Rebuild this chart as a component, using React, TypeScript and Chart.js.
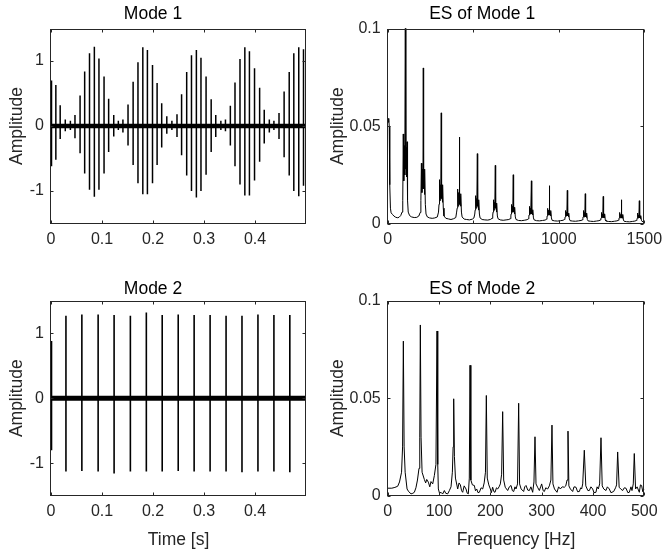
import React, { useEffect, useRef } from 'react';
import { Chart, registerables } from 'chart.js';

Chart.register(...registerables);

const FONT = "'Liberation Sans', Arial, Helvetica, sans-serif";
const AXIS_COLOR = '#262626';

// ---------- Mode 1 (time signal): impulse times [s], positive and negative peaks ----------
const MODE1_T = [0.001, 0.0095, 0.018, 0.028, 0.038,
  0.047, 0.057, 0.066, 0.0755, 0.085, 0.094, 0.104, 0.113, 0.123, 0.132,
  0.141, 0.151, 0.161, 0.1705, 0.18, 0.189, 0.199, 0.208, 0.217, 0.227, 0.237,
  0.247, 0.256, 0.266, 0.2754, 0.285, 0.294, 0.304, 0.314, 0.323, 0.333,
  0.342, 0.3516, 0.3607, 0.3705, 0.38, 0.389, 0.399, 0.409, 0.418, 0.428, 0.437,
  0.447, 0.457, 0.467, 0.476, 0.4857, 0.495];
const MODE1_POS = [0.7, 0.63, 0.32, 0.1, 0.08,
  0.17, 0.47, 0.84, 1.12, 1.22, 1.04, 0.76, 0.42, 0.17, 0.08,
  0.1, 0.33, 0.68, 0.98, 1.21, 1.17, 0.94, 0.66, 0.35, 0.15, 0.08,
  0.18, 0.49, 0.83, 1.09, 1.17, 1.05, 0.76, 0.41, 0.17, 0.08,
  0.1, 0.31, 0.67, 1.03, 1.21, 1.15, 0.89, 0.59, 0.25, 0.1, 0.08,
  0.2, 0.53, 0.83, 1.12, 1.21, 1.18];
const MODE1_NEG = [-0.62, -0.52, -0.2, -0.08, -0.06,
  -0.19, -0.42, -0.73, -0.98, -1.09, -0.98, -0.73, -0.4, -0.16, -0.06,
  -0.1, -0.3, -0.6, -0.88, -1.05, -1.05, -0.88, -0.6, -0.33, -0.12, -0.06,
  -0.17, -0.45, -0.76, -1.0, -1.1, -1.0, -0.75, -0.4, -0.17, -0.06,
  -0.08, -0.3, -0.62, -0.9, -1.07, -1.07, -0.84, -0.55, -0.27, -0.1, -0.06,
  -0.2, -0.48, -0.76, -1.0, -1.08, -0.92];

// ---------- Mode 2 (time signal) ----------
const MODE2_T = [0.001, 0.0293, 0.0605, 0.0924, 0.1237, 0.1556, 0.1869, 0.218,
  0.2494, 0.2806, 0.3119, 0.3432, 0.3744, 0.4057, 0.437, 0.4682];
const MODE2_POS = [0.88, 1.27, 1.29, 1.29, 1.28, 1.27, 1.32, 1.28,
  1.29, 1.28, 1.28, 1.27, 1.27, 1.29, 1.28, 1.28];
const MODE2_NEG = [-0.8, -1.13, -1.12, -1.13, -1.16, -1.13, -1.13, -1.13,
  -1.12, -1.13, -1.13, -1.13, -1.14, -1.13, -1.13, -1.14];

// ---------- Envelope spectrum of Mode 1: [frequency Hz, amplitude] ----------
const ES1_POINTS = [
  [0, 0.054], [3, 0.052], [6, 0.054], [9, 0.05], [11, 0.04], [13, 0.02], [16, 0.008], [20, 0.0056],
  [28, 0.0048], [36, 0.004], [46, 0.0034], [56, 0.0031], [66, 0.0033], [76, 0.0042], [84, 0.006],
  [88, 0.012], [91, 0.046], [94, 0.022], [97, 0.04], [100, 0.025], [103, 0.115], [106, 0.028], [109, 0.039],
  [111, 0.024], [113, 0.042], [116, 0.012], [120, 0.006], [128, 0.0042], [140, 0.0035], [155, 0.0032],
  [170, 0.0033], [182, 0.004], [190, 0.0058],
  [194, 0.012], [197, 0.031], [200, 0.016], [203, 0.028], [206, 0.018], [208, 0.0798], [210, 0.018],
  [213, 0.026], [215, 0.015], [217, 0.028], [220, 0.01], [224, 0.005], [232, 0.0035], [245, 0.003],
  [260, 0.0028], [275, 0.003], [290, 0.0035], [297, 0.006],
  [300, 0.01], [303, 0.0226], [306, 0.012], [309, 0.02], [311, 0.013], [313, 0.0568], [315, 0.013],
  [318, 0.018], [320, 0.011], [322, 0.02], [325, 0.008], [329, 0.004], [340, 0.0028], [355, 0.0025],
  [370, 0.0022], [385, 0.0026], [398, 0.0032], [403, 0.006],
  [406, 0.008], [409, 0.0178], [412, 0.009], [415, 0.016], [417, 0.01], [419, 0.0444], [421, 0.01],
  [424, 0.014], [426, 0.009], [428, 0.0154], [431, 0.006], [435, 0.0035], [447, 0.0024], [462, 0.0022],
  [478, 0.002], [495, 0.0024], [504, 0.003], [509, 0.005],
  [511, 0.007], [514, 0.0144], [517, 0.008], [520, 0.013], [522, 0.009], [524, 0.0359], [526, 0.009],
  [529, 0.011], [531, 0.007], [533, 0.0123], [536, 0.005], [540, 0.003], [552, 0.0022], [568, 0.002],
  [585, 0.0019], [600, 0.0022], [610, 0.0028], [614, 0.0045],
  [616, 0.006], [619, 0.0123], [622, 0.007], [625, 0.011], [627, 0.008], [629, 0.0299], [631, 0.008],
  [634, 0.0095], [636, 0.006], [638, 0.0106], [641, 0.004], [645, 0.0026], [658, 0.002], [675, 0.0018],
  [692, 0.002], [708, 0.0022], [716, 0.0026], [720, 0.004],
  [721, 0.005], [724, 0.0099], [727, 0.006], [730, 0.009], [732, 0.006], [734, 0.0251], [736, 0.006],
  [739, 0.008], [741, 0.005], [743, 0.0085], [746, 0.0035], [750, 0.0022], [765, 0.0017], [782, 0.0016],
  [798, 0.0018], [815, 0.0021], [822, 0.0025], [825, 0.0035],
  [826, 0.0045], [829, 0.0089], [832, 0.005], [835, 0.008], [837, 0.005], [840, 0.022], [842, 0.005],
  [845, 0.0065], [847, 0.0045], [849, 0.0072], [852, 0.003], [856, 0.002], [870, 0.0016], [888, 0.0015],
  [905, 0.0017], [920, 0.0019], [928, 0.0023], [931, 0.003],
  [932, 0.004], [935, 0.0079], [938, 0.0045], [941, 0.007], [943, 0.0045], [945, 0.0195], [947, 0.0045],
  [950, 0.006], [952, 0.004], [954, 0.0068], [957, 0.003], [961, 0.0018], [975, 0.0015], [993, 0.0014],
  [1010, 0.0016], [1025, 0.0018], [1033, 0.0022], [1036, 0.003],
  [1037, 0.0035], [1040, 0.0068], [1043, 0.004], [1046, 0.006], [1048, 0.004], [1050, 0.0171], [1052, 0.004],
  [1055, 0.005], [1057, 0.0035], [1059, 0.0055], [1062, 0.0025], [1066, 0.0016], [1080, 0.0014],
  [1098, 0.0013], [1115, 0.0015], [1130, 0.0017], [1138, 0.002], [1141, 0.0028],
  [1142, 0.0035], [1145, 0.0068], [1148, 0.0035], [1151, 0.0058], [1153, 0.0038], [1155, 0.0154],
  [1157, 0.0035], [1160, 0.0048], [1162, 0.0032], [1164, 0.0055], [1167, 0.0022], [1171, 0.0015],
  [1185, 0.0013], [1203, 0.0012], [1220, 0.0014], [1235, 0.0016], [1243, 0.0019], [1246, 0.0026],
  [1247, 0.003], [1250, 0.0058], [1253, 0.0032], [1256, 0.005], [1258, 0.0034], [1260, 0.014],
  [1262, 0.0032], [1265, 0.0044], [1267, 0.003], [1269, 0.0051], [1272, 0.002], [1276, 0.0014],
  [1290, 0.0012], [1308, 0.0011], [1325, 0.0013], [1340, 0.0015], [1349, 0.0018], [1352, 0.0025],
  [1353, 0.003], [1356, 0.0058], [1359, 0.003], [1362, 0.0048], [1364, 0.0032], [1366, 0.0123],
  [1368, 0.003], [1371, 0.0042], [1373, 0.0028], [1375, 0.0048], [1378, 0.0019], [1382, 0.0013],
  [1396, 0.0011], [1414, 0.001], [1430, 0.0012], [1445, 0.0014], [1454, 0.0017], [1457, 0.0024],
  [1458, 0.0028], [1461, 0.0055], [1464, 0.003], [1467, 0.0045], [1469, 0.003], [1471, 0.0118],
  [1473, 0.003], [1476, 0.0038], [1478, 0.0026], [1480, 0.0042], [1483, 0.0018], [1487, 0.0012],
  [1495, 0.0011], [1500, 0.0011],
];

// ---------- Envelope spectrum of Mode 2: [frequency Hz, amplitude] ----------
const ES2_POINTS = [
  [0, 0.0038], [8, 0.0038], [14, 0.0042], [19.5, 0.0048], [23, 0.007], [27, 0.012], [29, 0.025], [30.5, 0.0793],
  [32, 0.025], [34, 0.012], [37.7, 0.0034], [41, 0.002], [45.5, 0.0009], [49, 0.0012], [51.9, 0.0017],
  [55, 0.004], [58, 0.008], [61, 0.014], [62.5, 0.03], [63.6, 0.0876], [65, 0.03], [67, 0.012], [71.4, 0.0083],
  [74, 0.0065], [76, 0.0083], [79.2, 0.0069], [82, 0.0045], [84.4, 0.0072], [87.7, 0.006], [90.9, 0.0103],
  [94, 0.016], [96.1, 0.0845], [97.5, 0.016], [98.7, 0.0034], [101, 0.0012], [103.9, 0.0017], [107, 0.0008],
  [110.4, 0.0026], [113, 0.0012], [116.9, 0.0009], [120, 0.0025], [123.4, 0.0045], [126, 0.012], [127.5, 0.025],
  [128.6, 0.0497], [130, 0.02], [132, 0.009], [136.4, 0.0034], [139, 0.0065], [141.6, 0.0055], [144, 0.0025],
  [146.1, 0.0017], [149, 0.005], [152.6, 0.0034], [155, 0.0012], [157.1, 0.0009], [159, 0.009], [160.4, 0.0669],
  [162, 0.008], [165, 0.0055], [168.8, 0.0052], [171, 0.0025], [173.4, 0.0034], [176, 0.0015], [178.6, 0.0017],
  [182, 0.004], [185.1, 0.0034], [188, 0.0065], [190.5, 0.012], [192.2, 0.0514], [194, 0.009], [197, 0.0055],
  [200, 0.0034], [202, 0.0015], [204.5, 0.0043], [207, 0.002], [209.1, 0.0017], [212, 0.004], [214.3, 0.0034],
  [217, 0.0045], [219.5, 0.006], [222, 0.011], [224, 0.0431], [226, 0.008], [229, 0.0043], [233.8, 0.0026],
  [237, 0.0045], [240.3, 0.0052], [243, 0.0025], [245.5, 0.0021], [248, 0.0045], [250, 0.0034], [253, 0.006],
  [255.2, 0.0474], [257, 0.006], [260, 0.0034], [264.9, 0.0021], [267, 0.0045], [269.5, 0.0052], [273, 0.0028],
  [276, 0.0026], [279, 0.0045], [282.5, 0.0017], [285, 0.007], [287, 0.0302], [289, 0.006], [292, 0.0043],
  [295.5, 0.0026], [298, 0.0045], [300, 0.006], [303, 0.0025], [305.2, 0.0021], [308, 0.004], [311.7, 0.0034],
  [315, 0.005], [318, 0.008], [320.1, 0.0362], [322, 0.006], [325, 0.0034], [329.9, 0.0017], [333, 0.0045],
  [336.4, 0.0034], [340, 0.0045], [344.2, 0.0043], [347, 0.005], [349.5, 0.008], [351.3, 0.0331], [353, 0.005],
  [356, 0.0034], [360.4, 0.0021], [363, 0.0045], [366.9, 0.0043], [370, 0.002], [373.4, 0.0021], [376, 0.004],
  [377.9, 0.0034], [380, 0.006], [383.1, 0.0233], [386, 0.005], [390, 0.0026], [392.9, 0.0026], [396, 0.0045],
  [399.4, 0.0034], [402, 0.0015], [405.8, 0.0017], [408, 0.0045], [410.4, 0.0034], [413, 0.006], [415.6, 0.0297],
  [418, 0.005], [421, 0.0034], [425.3, 0.0026], [428, 0.0045], [431.8, 0.0034], [435, 0.0015], [440.3, 0.0021],
  [444, 0.004], [446, 0.0055], [448.1, 0.0224], [451, 0.0043], [454, 0.0034], [457.8, 0.0026], [461, 0.004],
  [464.3, 0.0038], [468, 0.0015], [470.8, 0.0017], [474, 0.0045], [476, 0.0026], [478.5, 0.006], [480.5, 0.0216],
  [483, 0.0034], [486, 0.0045], [490.3, 0.0017], [492.5, 0.0055], [494.8, 0.0052], [497, 0.002], [500, 0.0034],
];

// ---------- Tick values ----------
const TIME_TICKS = [0, 0.1, 0.2, 0.3, 0.4];
const SIGNAL_Y_TICKS = [-1, 0, 1];
const ES_Y_TICKS = [0, 0.05, 0.1];
const ES1_X_TICKS = [0, 500, 1000, 1500];
const ES2_X_TICKS = [0, 100, 200, 300, 400, 500];

// ---------- Helpers ----------
function impulseData(times: number[], pos: number[], neg: number[]) {
  const pts: { x: number; y: number }[] = [];
  times.forEach((t, i) => {
    pts.push({ x: t, y: 0 }, { x: t, y: pos[i] }, { x: t, y: neg[i] }, { x: t, y: 0 });
  });
  return pts;
}
function pairData(pairs: number[][]) {
  return pairs.map(([x, y]) => ({ x, y }));
}

const boxPlugin = {
  id: 'matlabBox',
  afterDatasetsDraw(chart: any) {
    const { ctx, chartArea: a, scales } = chart;
    const L = Math.round(a.left) - 0.5;
    const R = Math.round(a.right) - 0.5;
    const T = Math.round(a.top) + 0.5;
    const B = Math.round(a.bottom) - 0.5;
    ctx.save();
    ctx.strokeStyle = AXIS_COLOR;
    ctx.lineWidth = 1;
    ctx.strokeRect(L, T, R - L, B - T);
    const tl = 3;
    ctx.beginPath();
    scales.x.ticks.forEach((t: any) => {
      const px = Math.round(scales.x.getPixelForValue(t.value)) + 0.5;
      ctx.moveTo(px, B); ctx.lineTo(px, B - tl);
      ctx.moveTo(px, T); ctx.lineTo(px, T + tl);
    });
    scales.y.ticks.forEach((t: any) => {
      const py = Math.round(scales.y.getPixelForValue(t.value)) + 0.5;
      ctx.moveTo(L, py); ctx.lineTo(L + tl, py);
      ctx.moveTo(R, py); ctx.lineTo(R - tl, py);
    });
    ctx.stroke();
    ctx.restore();
  },
};

type Panel = {
  key: string;
  x: number; y: number; w: number; h: number;
  area: { left: number; right: number; top: number; bottom: number };
  title: string; titleCenter: number;
  yTitleCenter: number;
  xTitle?: string; xTitleCenter?: number;
  xMin: number; xMax: number; xTicks: number[];
  yMin: number; yMax: number; yTicks: number[];
  datasets: any[];
};

const LINE = { showLine: true, pointRadius: 0, borderColor: '#000000', fill: false, tension: 0 };

const PANELS: Panel[] = [
  {
    key: 'm1', x: 0, y: 0, w: 320, h: 272,
    area: { left: 51, right: 306, top: 28.5, bottom: 223.5 },
    title: 'Mode 1', titleCenter: 14.6, yTitleCenter: 17.5,
    xMin: 0, xMax: 0.4999, xTicks: TIME_TICKS, yMin: -1.5, yMax: 1.5, yTicks: SIGNAL_Y_TICKS,
    datasets: [
      { ...LINE, data: [{ x: 0, y: 0 }, { x: 0.4999, y: 0 }], borderWidth: 4.5 },
      { ...LINE, data: impulseData(MODE1_T, MODE1_POS, MODE1_NEG), borderWidth: 1.5 },
    ],
  },
  {
    key: 'es1', x: 320, y: 0, w: 342, h: 272,
    area: { left: 67.7, right: 324.3, top: 28.5, bottom: 223.8 },
    title: 'ES of Mode 1', titleCenter: 14.6, yTitleCenter: 18,
    xMin: 0, xMax: 1500, xTicks: ES1_X_TICKS, yMin: 0, yMax: 0.1, yTicks: ES_Y_TICKS,
    datasets: [{ ...LINE, data: pairData(ES1_POINTS), borderWidth: 1 }],
  },
  {
    key: 'm2', x: 0, y: 272, w: 320, h: 278,
    area: { left: 51, right: 306, top: 28.8, bottom: 223.6 },
    title: 'Mode 2', titleCenter: 16.9, yTitleCenter: 17.5,
    xTitle: 'Time [s]', xTitleCenter: 268,
    xMin: 0, xMax: 0.4999, xTicks: TIME_TICKS, yMin: -1.5, yMax: 1.5, yTicks: SIGNAL_Y_TICKS,
    datasets: [
      { ...LINE, data: [{ x: 0, y: 0 }, { x: 0.4999, y: 0 }], borderWidth: 5 },
      { ...LINE, data: impulseData(MODE2_T, MODE2_POS, MODE2_NEG), borderWidth: 1.6 },
    ],
  },
  {
    key: 'es2', x: 320, y: 272, w: 342, h: 278,
    area: { left: 67.7, right: 324.3, top: 28.8, bottom: 223.6 },
    title: 'ES of Mode 2', titleCenter: 16.9, yTitleCenter: 18,
    xTitle: 'Frequency [Hz]', xTitleCenter: 268,
    xMin: 0, xMax: 500, xTicks: ES2_X_TICKS, yMin: 0, yMax: 0.1, yTicks: ES_Y_TICKS,
    datasets: [{ ...LINE, data: pairData(ES2_POINTS), borderWidth: 1 }],
  },
];

function buildConfig(p: Panel): any {
  const TITLE_SIZE = 17.5;
  const TICK_SIZE = 16;
  const titleLH = TITLE_SIZE * 1.2;
  const titlePadTop = p.titleCenter - titleLH / 2;
  const titlePadBottom = p.area.top - titlePadTop - titleLH;
  const tickFont = { family: FONT, size: TICK_SIZE, lineHeight: 1.2 };
  return {
    type: 'scatter',
    data: { datasets: p.datasets },
    plugins: [boxPlugin],
    options: {
      responsive: false,
      animation: false,
      events: [],
      layout: { padding: { left: 0, top: 0, bottom: 0, right: p.w - p.area.right } },
      plugins: {
        legend: { display: false },
        tooltip: { enabled: false },
        title: {
          display: true,
          text: p.title,
          color: '#000000',
          font: { family: FONT, size: TITLE_SIZE, weight: 'normal', lineHeight: 1.2 },
          padding: { top: titlePadTop, bottom: titlePadBottom },
        },
      },
      scales: {
        x: {
          type: 'linear',
          min: p.xMin,
          max: p.xMax,
          grid: { display: false, drawTicks: false },
          border: { display: false },
          ticks: {
            color: AXIS_COLOR,
            font: tickFont,
            padding: 6,
            maxRotation: 0,
            autoSkip: false,
            callback: (v: any) => String(v),
          },
          afterBuildTicks: (s: any) => { s.ticks = p.xTicks.map((v) => ({ value: v })); },
          afterFit: (s: any) => {
            s.height = p.h - p.area.bottom;
            s.paddingLeft = 0;
            s.paddingRight = 0;
          },
          title: p.xTitle
            ? {
                display: true,
                text: p.xTitle,
                color: AXIS_COLOR,
                font: { family: FONT, size: TITLE_SIZE, lineHeight: 1 },
                padding: { top: 0, bottom: p.h - (p.xTitleCenter as number) - TITLE_SIZE / 2 },
              }
            : { display: false },
        },
        y: {
          type: 'linear',
          min: p.yMin,
          max: p.yMax,
          grid: { display: false, drawTicks: false },
          border: { display: false },
          ticks: {
            color: AXIS_COLOR,
            font: tickFont,
            padding: 7,
            autoSkip: false,
            callback: (v: any) => String(v),
          },
          afterBuildTicks: (s: any) => { s.ticks = p.yTicks.map((v) => ({ value: v })); },
          afterFit: (s: any) => {
            s.width = p.area.left;
            s.paddingTop = 0;
            s.paddingBottom = 0;
          },
          title: {
            display: true,
            text: 'Amplitude',
            color: AXIS_COLOR,
            font: { family: FONT, size: TITLE_SIZE, lineHeight: 1.2 },
            padding: { top: p.yTitleCenter - titleLH / 2, bottom: 0 },
          },
        },
      },
    },
  };
}

function PanelChart({ panel }: { panel: Panel }) {
  const ref = useRef<HTMLCanvasElement | null>(null);
  useEffect(() => {
    if (!ref.current) return;
    const chart = new Chart(ref.current, buildConfig(panel));
    return () => chart.destroy();
  }, [panel]);
  return (
    <canvas
      ref={ref}
      width={panel.w}
      height={panel.h}
      style={{ position: 'absolute', left: panel.x, top: panel.y, width: panel.w, height: panel.h }}
    />
  );
}

export default function App() {
  return (
    <div
      style={{
        position: 'fixed', left: 0, top: 0, width: 662, height: 550,
        background: '#ffffff', overflow: 'hidden',
      }}
    >
      {PANELS.map((p) => (
        <PanelChart key={p.key} panel={p} />
      ))}
    </div>
  );
}
